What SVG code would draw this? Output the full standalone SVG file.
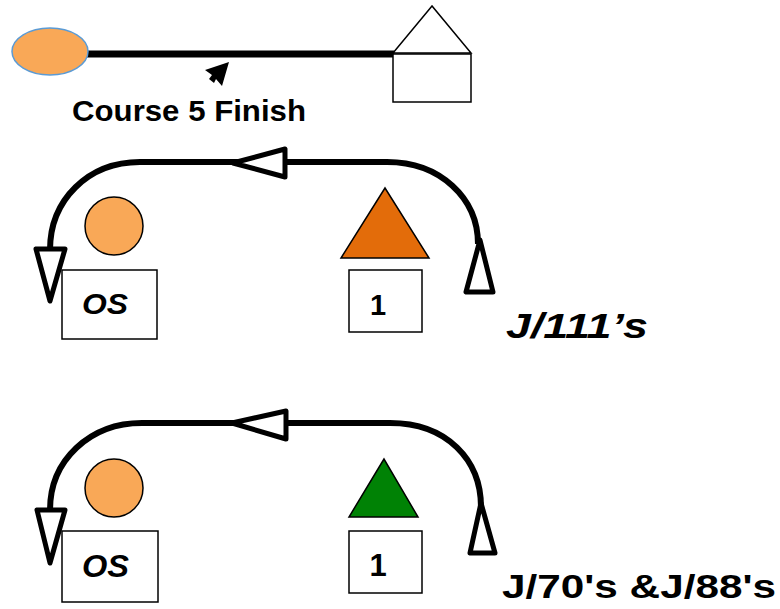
<svg xmlns="http://www.w3.org/2000/svg" width="780" height="609" viewBox="0 0 780 609">
<style>
.path{fill:none;stroke:#000;stroke-width:6;stroke-linecap:butt}
.head{fill:#fff;stroke:#000;stroke-width:5;stroke-linejoin:round}
.box{fill:#fff;stroke:#000;stroke-width:1.5}
.cone{fill:#F9A857;stroke:#000;stroke-width:1.5}
.t{font-family:"Liberation Sans",Arial,sans-serif;font-weight:bold;fill:#000}
</style>
<rect width="780" height="609" fill="#fff"/>
<g id="connectors">
<line x1="86" y1="54" x2="394" y2="54" stroke="#000" stroke-width="7"/>
<polygon points="229,62 205,70 212,75 209,79 214,83 216,79 222,86" fill="#000"/>
<path class="path" d="M478,244 C478,198 440,162 387,162 L140,162 C88,162 50,200 50,250"/>
<polygon class="head" points="233,163 285,149 285,177"/>
<polygon class="head" points="36,249 65,249 50,301"/>
<polygon class="head" points="480,240 466,292 493,292"/>
<path class="path" d="M481,507 C481,460 447,423 390,423 L142,423 C90,423 50,460 50,510"/>
<polygon class="head" points="232,423 286,411 286,439"/>
<polygon class="head" points="37,510 65,510 50,563"/>
<polygon class="head" points="481,503 470,553 495,553"/>
</g>
<g id="start">
<ellipse cx="50" cy="51.5" rx="38" ry="23.5" fill="#F9A857" stroke="#5B9BD5" stroke-width="1.5"/>
</g>
<g id="finish-house">
<polygon points="432,6 393,53 471,53" fill="#fff" stroke="#000" stroke-width="1.5"/>
<rect x="393" y="54" width="78" height="48" fill="#fff" stroke="#000" stroke-width="1.5"/>
</g>
<g id="course-label">
<text class="t" x="72" y="121" font-size="29" textLength="234" lengthAdjust="spacingAndGlyphs">Course 5 Finish</text>
</g>
<g id="os-1">
<circle class="cone" cx="114" cy="226" r="29"/>
<rect class="box" x="62" y="270" width="95" height="69"/>
<text class="t" x="82" y="314" font-size="30" font-style="italic" textLength="46" lengthAdjust="spacingAndGlyphs">OS</text>
</g>
<g id="mark-1">
<polygon points="385,188 341,258 429,258" fill="#E36C0A" stroke="#000" stroke-width="1.5"/>
<rect class="box" x="349" y="270" width="73" height="62"/>
<text class="t" x="378" y="315" font-size="29" text-anchor="middle">1</text>
</g>
<g id="label-1">
<text class="t" x="506" y="338" font-size="35" font-style="italic" textLength="142" lengthAdjust="spacingAndGlyphs">J/111’s</text>
</g>
<g id="os-2">
<circle class="cone" cx="114" cy="488" r="29"/>
<rect class="box" x="62" y="531" width="96" height="71"/>
<text class="t" x="82" y="577" font-size="31" font-style="italic" textLength="47" lengthAdjust="spacingAndGlyphs">OS</text>
</g>
<g id="mark-2">
<polygon points="384,459 349,517 418,517" fill="#008205" stroke="#000" stroke-width="1.5"/>
<rect class="box" x="349" y="531" width="73" height="62"/>
<text class="t" x="378" y="576" font-size="31" text-anchor="middle">1</text>
</g>
<g id="label-2">
<text class="t" x="502" y="598" font-size="34" textLength="274" lengthAdjust="spacingAndGlyphs">J/70's &amp;J/88's</text>
</g>
</svg>
